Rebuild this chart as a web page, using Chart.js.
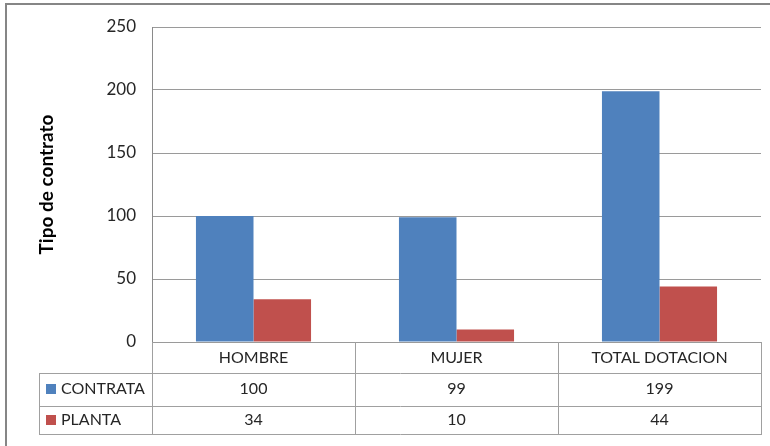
<!DOCTYPE html>
<html lang="es">
<head>
  <meta charset="UTF-8" />
  <title>Tipo de contrato</title>
  <script src="https://cdn.jsdelivr.net/npm/chart.js"></script>
  <style>
    body {
      margin: 0;
      background: #ffffff;
    }
    #wrap {
      width: 770px;
      height: 446px;
      position: relative;
    }
  </style>
</head>
<body>
  <div id="wrap">
    <canvas id="chart" width="770" height="446"></canvas>
  </div>

  <script>
    // Data
    const categories = ["HOMBRE", "MUJER", "TOTAL DOTACION"];
    const contrata = [100, 99, 199];
    const planta = [34, 10, 44];
    const seriesNames = ["CONTRATA", "PLANTA"];
    const seriesColors = ["#4f81bd", "#c0504d"];

    const FONT = "Lato, 'Liberation Sans', sans-serif";
    const TEXT = "#262626";

    // Draws the outer frame and the Excel-style data table under the plot
    const dataTable = {
      id: "dataTable",
      afterDraw(chart) {
        const ctx = chart.ctx;
        const x = chart.scales.x;
        const area = chart.chartArea;
        const step = (area.right - area.left) / categories.length;
        const rowH = 32;
        const top = area.bottom;
        const legendLeft = 39;
        const rows = [top, top + rowH - 1, top + 2 * rowH - 0.5, top + 3 * rowH - 4];

        ctx.save();

        // outer frame (left and top edges only are visible)
        ctx.strokeStyle = "#868686";
        ctx.lineWidth = 2;
        ctx.beginPath();
        ctx.moveTo(6, 446);
        ctx.lineTo(6, 4);
        ctx.lineTo(770, 4);
        ctx.stroke();

        // table grid
        ctx.strokeStyle = "#a0a0a0";
        ctx.lineWidth = 1;
        ctx.beginPath();
        for (let i = 0; i <= categories.length; i++) {
          const bx = Math.round(area.left + i * step) + 0.5;
          ctx.moveTo(bx, top);
          ctx.lineTo(bx, rows[3]);
        }
        ctx.moveTo(legendLeft + 0.5, rows[1]);
        ctx.lineTo(legendLeft + 0.5, rows[3]);
        for (let r = 1; r <= 3; r++) {
          const y = Math.round(rows[r]) + 0.5;
          ctx.moveTo(legendLeft, y);
          ctx.lineTo(Math.round(area.right) + 1, y);
        }
        ctx.stroke();

        // category labels and values
        ctx.font = "16px " + FONT;
        ctx.fillStyle = TEXT;
        ctx.textAlign = "center";
        ctx.textBaseline = "middle";
        const values = [contrata, planta];
        categories.forEach((c, i) => {
          const cx = x.getPixelForValue(i);
          ctx.fillText(c, cx, (rows[0] + rows[1]) / 2);
          values.forEach((vals, s) => {
            ctx.fillText(String(vals[i]), cx, (rows[s + 1] + rows[s + 2]) / 2);
          });
        });

        // legend keys
        ctx.textAlign = "left";
        seriesNames.forEach((name, s) => {
          const cy = (rows[s + 1] + rows[s + 2]) / 2;
          ctx.fillStyle = seriesColors[s];
          ctx.fillRect(46, Math.round(cy) - 5, 10, 10);
          ctx.fillStyle = TEXT;
          ctx.fillText(name, 61, cy);
        });

        ctx.restore();
      }
    };

    new Chart(document.getElementById("chart").getContext("2d"), {
      type: "bar",
      data: {
        labels: categories,
        datasets: [
          {
            label: seriesNames[0],
            data: contrata,
            backgroundColor: seriesColors[0],
            categoryPercentage: 0.567,
            barPercentage: 1
          },
          {
            label: seriesNames[1],
            data: planta,
            backgroundColor: seriesColors[1],
            categoryPercentage: 0.567,
            barPercentage: 1
          }
        ]
      },
      options: {
        responsive: false,
        animation: false,
        layout: { padding: { left: 0, top: 27, right: 9, bottom: 104 } },
        plugins: {
          legend: { display: false },
          tooltip: { enabled: false }
        },
        scales: {
          x: { display: false },
          y: {
            min: 0,
            max: 250,
            afterFit(scale) { scale.width = 152; },
            ticks: {
              stepSize: 50,
              padding: 16,
              color: TEXT,
              font: { family: FONT, size: 17 }
            },
            grid: {
              color: "#9a9a9a",
              drawTicks: false
            },
            border: { color: "#8a8a8a" },
            title: {
              display: true,
              text: "Tipo de contrato",
              color: "#000000",
              padding: { top: 35, bottom: 0 },
              font: { family: FONT, size: 19, weight: "bold" }
            }
          }
        }
      },
      plugins: [dataTable]
    });
  </script>
</body>
</html>
